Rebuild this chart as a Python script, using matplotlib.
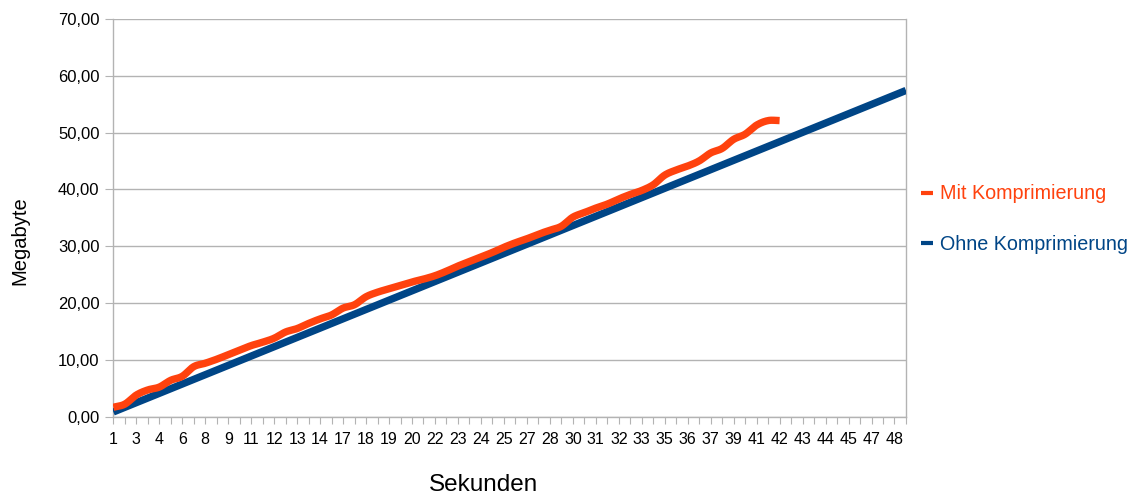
import numpy as np
import matplotlib.pyplot as plt
from matplotlib.ticker import FuncFormatter, MultipleLocator

# sample times in whole seconds, one per measurement
sekunden = [1, 2, 3, 3, 4, 5, 6, 7, 8, 8,
            9, 10, 11, 11, 12, 12, 13, 13, 14, 15,
            17, 17, 18, 18, 19, 20, 20, 21, 22, 22,
            23, 24, 24, 25, 25, 26, 27, 27, 28, 29,
            30, 30, 31, 32, 32, 32, 33, 34, 35, 35,
            36, 36, 37, 38, 39, 40, 41, 41, 42, 42,
            43, 43, 44, 44, 45, 46, 47, 47, 48, 48]

# transferred megabytes per sample
mit_komprimierung = [1.65, 2.2, 3.8, 4.7, 5.2, 6.4, 7.1, 8.8, 9.4, 10.1,
                     10.9, 11.7, 12.5, 13.1, 13.8, 14.9, 15.5, 16.4, 17.2, 17.9,
                     19.1, 19.7, 21.1, 21.9, 22.5, 23.1, 23.7, 24.2, 24.8, 25.6,
                     26.5, 27.3, 28.1, 28.9, 29.8, 30.6, 31.3, 32.1, 32.8, 33.5,
                     35.1, 35.9, 36.7, 37.4, 38.3, 39.1, 39.8, 40.8, 42.5, 43.4,
                     44.1, 45.0, 46.4, 47.2, 48.8, 49.7, 51.3, 52.1, 52.1]

ohne_komprimierung = [0.82, 1.64, 2.46, 3.28, 4.10, 4.92, 5.74, 6.56, 7.38, 8.20,
                      9.02, 9.84, 10.66, 11.48, 12.30, 13.12, 13.94, 14.76, 15.58, 16.40,
                      17.22, 18.04, 18.86, 19.68, 20.50, 21.32, 22.14, 22.96, 23.78, 24.60,
                      25.42, 26.24, 27.06, 27.88, 28.70, 29.52, 30.34, 31.16, 31.98, 32.80,
                      33.62, 34.44, 35.26, 36.08, 36.90, 37.72, 38.54, 39.36, 40.18, 41.00,
                      41.82, 42.64, 43.46, 44.28, 45.10, 45.92, 46.74, 47.56, 48.38, 49.20,
                      50.02, 50.84, 51.66, 52.48, 53.30, 54.12, 54.94, 55.76, 56.58, 57.40]

ORANGE = '#ff420e'
BLUE = '#004586'
GRID = '#b3b3b3'


def smooth(ys, steps=12):
    # Catmull-Rom curve through every sample, like the office "smooth line" style
    x = np.arange(len(ys), dtype=float)
    y = np.asarray(ys, dtype=float)
    px = np.concatenate([[2 * x[0] - x[1]], x, [2 * x[-1] - x[-2]]])
    py = np.concatenate([[2 * y[0] - y[1]], y, [2 * y[-1] - y[-2]]])
    t = np.linspace(0, 1, steps, endpoint=False)
    out_x, out_y = [], []
    for i in range(1, len(px) - 2):
        for p, o in ((px, out_x), (py, out_y)):
            p0, p1, p2, p3 = p[i - 1], p[i], p[i + 1], p[i + 2]
            o.extend(0.5 * (2 * p1 + (p2 - p0) * t
                            + (2 * p0 - 5 * p1 + 4 * p2 - p3) * t ** 2
                            + (3 * p1 - p0 - 3 * p2 + p3) * t ** 3))
    out_x.append(x[-1])
    out_y.append(y[-1])
    return out_x, out_y


plt.rcParams['font.family'] = ['Liberation Sans', 'DejaVu Sans']

fig = plt.figure(figsize=(11.38, 4.96), dpi=100)
ax = fig.add_axes([0.0996, 0.160, 0.6965, 0.802])

ax.plot(range(len(ohne_komprimierung)), ohne_komprimierung, color=BLUE, lw=5.3,
        solid_capstyle='butt', label='Ohne Komprimierung', zorder=3)
ax.plot(*smooth(mit_komprimierung), color=ORANGE, lw=5.3,
        solid_capstyle='butt', solid_joinstyle='round', label='Mit Komprimierung', zorder=4)

ax.set_xlim(0, len(sekunden) - 1)
ax.set_ylim(0, 70)
ax.yaxis.set_major_locator(MultipleLocator(10))
ax.yaxis.set_major_formatter(FuncFormatter(lambda v, p: f'{v:.2f}'.replace('.', ',')))

# every category gets a tick, only every other one a label
ax.set_xticks(range(len(sekunden)))
ax.set_xticklabels([str(s) if i % 2 == 0 else '' for i, s in enumerate(sekunden)])

ax.grid(axis='y', color=GRID, lw=1)
ax.set_axisbelow(True)
for side in ['left', 'bottom', 'right']:
    ax.spines[side].set_color(GRID)
    ax.spines[side].set_linewidth(1)
ax.spines['top'].set_visible(False)

ax.tick_params(axis='x', direction='out', length=5, color=GRID, labelsize=11.5, pad=6)
ax.tick_params(axis='y', direction='out', length=6, color=GRID, labelsize=12, pad=4)

ax.set_xlabel('Sekunden', fontsize=17.5, va='center')
ax.xaxis.set_label_coords(0.4676, -0.173)
ax.set_ylabel('Megabyte', fontsize=14.5, va='center', ha='center')
ax.yaxis.set_label_coords(-0.1178, 0.442)

handles, labels = ax.get_legend_handles_labels()
leg = fig.legend(handles[::-1], labels[::-1], loc='upper left', bbox_to_anchor=(0.7933, 0.664),
                 frameon=False, fontsize=14.2, handlelength=0.65, handletextpad=0.35,
                 labelspacing=1.6)
for text, line in zip(leg.get_texts(), leg.get_lines()):
    text.set_color(line.get_color())
    line.set_linewidth(3)

fig.savefig('out.png', dpi=100)
